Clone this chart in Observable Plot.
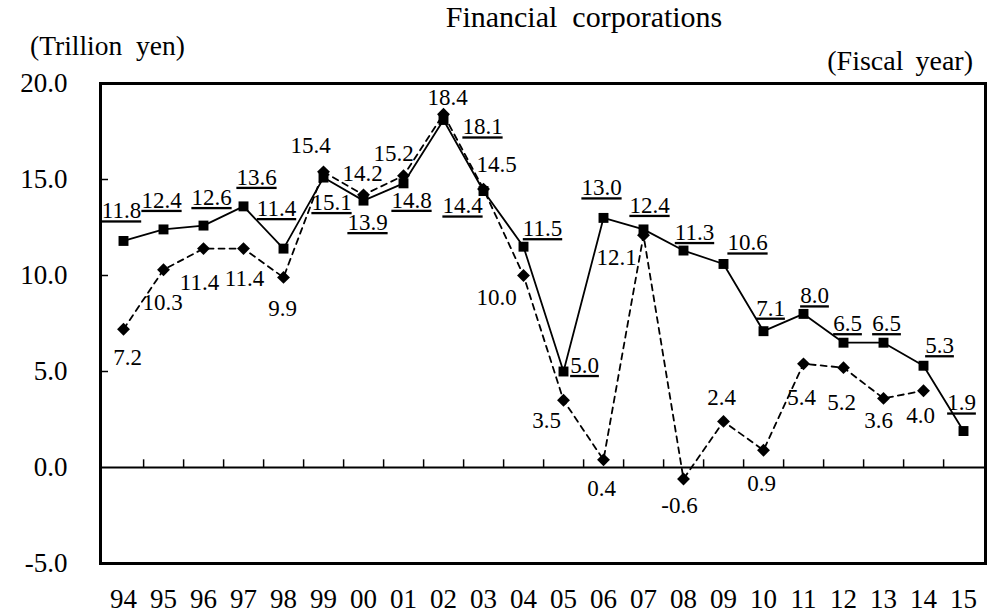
<!DOCTYPE html>
<html><head><meta charset="utf-8">
<script src="https://cdn.jsdelivr.net/npm/d3@7"></script>
<script src="https://cdn.jsdelivr.net/npm/@observablehq/plot@0.6"></script>
<style>
body{margin:0;background:#fff;}
#wrap{position:relative;width:998px;height:614px;font-family:"Liberation Serif","Times New Roman",serif;color:#000;}
.lbl{position:absolute;white-space:pre;line-height:1;z-index:2;}
#wrap svg{position:absolute;left:0;top:0;z-index:1;}
#wrap svg, #wrap svg text{font-family:"Liberation Serif","Times New Roman",serif !important;}
.ul text, text.ul{text-decoration:underline;}
</style></head><body>
<div id="wrap">
<div class="lbl" id="title" style="left:584px;top:2px;font-size:30px;transform:translateX(-50%);">Financial  corporations</div>
<div class="lbl" style="left:30px;top:32px;font-size:27.5px;">(Trillion  yen)</div>
<div class="lbl" style="right:25px;top:47px;font-size:28px;word-spacing:5px;">(Fiscal year)</div>
</div>
<script>
const years = ["94","95","96","97","98","99","00","01","02","03","04","05","06","07","08","09","10","11","12","13","14","15"];
const seriesA = [11.8,12.4,12.6,13.6,11.4,15.1,13.9,14.8,18.1,14.4,11.5,5.0,13.0,12.4,11.3,10.6,7.1,8.0,6.5,6.5,5.3,1.9];
const seriesB = [7.2,10.3,11.4,11.4,9.9,15.4,14.2,15.2,18.4,14.5,10.0,3.5,0.4,12.1,-0.6,2.4,0.9,5.4,5.2,3.6,4.0,null];
const yTicks = [-5,0,5,10,15,20];
// label offsets (dx, dy) in px relative to each point
const offA = [[-2,-30],[-2,-29],[8,-28],[13,-29],[-7,-40],[8,25],[4,22],[8,17],[39,7],[-21,15],[19,-18],[21,-6],[-2,-30],[6,-24],[11,-18],[24,-21],[7,-23],[11,-18],[4,-19],[3,-19],[16,-20],[-2,-28]];
const offB = [[4,28],[-1,33],[-4,34],[1,30],[-1,31],[-13,-26],[-1,-21],[-10,-22],[4,-17],[13,-24],[-27,22],[-17,20],[-2,29],[-27,22],[-4,27],[-2,-24],[-2,33],[-2,34],[-2,35],[-5,22],[-3,25]];

const W = 998, H = 614, mL = 100, mR = 13, mT = 83, mB = 51;
const FONT = "Liberation Serif";
const rows = years.map((yr, i) => ({year: yr, a: seriesA[i], b: seriesB[i]}));
const step = (W - mL - mR) / years.length;
const fmt = d => d.toFixed(1);

const labelsA = rows.map((r, i) => Plot.text([r], {x: "year", y: "a", text: d => fmt(d.a), dx: offA[i][0], dy: offA[i][1], fontSize: 23, fontFamily: FONT, className: "ul"}));
const labelsB = rows.filter(r => r.b != null).map((r, i) => Plot.text([r], {x: "year", y: "b", text: d => fmt(d.b), dx: offB[i][0], dy: offB[i][1], fontSize: 23, fontFamily: FONT}));

const chart = Plot.plot({
  width: W, height: H,
  marginLeft: mL, marginRight: mR, marginTop: mT, marginBottom: mB,
  style: {fontFamily: FONT, fontSize: "23px", background: "transparent", color: "black", overflow: "visible"},
  x: {type: "point", domain: years, padding: 0.5},
  y: {domain: [-5, 20]},
  marks: [
    Plot.ruleY([0], {strokeWidth: 2}),
    Plot.ruleX(years.slice(0, -1), {x: d => d, y1: 0, y2: 0.4, dx: step / 2, strokeWidth: 1.5}),
    Plot.tickY([5, 10, 15], {y: d => d, insetRight: W - mL - mR - 8, strokeWidth: 1.5}),
    Plot.line(rows, {x: "year", y: "b", strokeDasharray: "6,5", strokeWidth: 1.8}),
    Plot.line(rows, {x: "year", y: "a", strokeWidth: 1.8}),
    Plot.dot(rows.filter(r => r.b != null), {x: "year", y: "b", symbol: "diamond2", r: 5.8, fill: "black", stroke: "none"}),
    Plot.dot(rows, {x: "year", y: "a", symbol: "square", r: 5.6, fill: "black", stroke: "none"}),
    ...labelsA,
    ...labelsB,
    Plot.frame({strokeWidth: 3}),
    Plot.axisY({ticks: yTicks, tickSize: 0, tickPadding: 33, tickFormat: fmt, fontSize: 27, fontFamily: FONT, label: null}),
    Plot.axisX({tickSize: 0, tickPadding: 25, fontSize: 27, fontFamily: FONT, label: null})
  ]
});
document.getElementById("wrap").appendChild(chart);
</script>
</body></html>
